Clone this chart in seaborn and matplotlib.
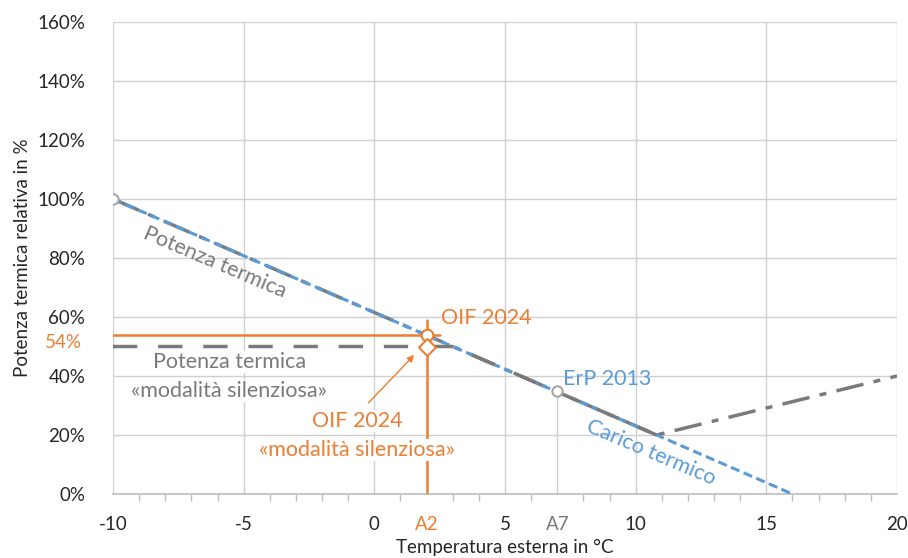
import matplotlib
matplotlib.use("Agg")
import matplotlib.pyplot as plt
import seaborn as sns
import pandas as pd
import numpy as np

# ---- data ----
load_temp = [-10, 16]
load_pct = [100, 0]
power_temp = [-10, 10.8, 20]
power_pct = [100, 20, 40]
silent_temp = [-10, 3, 10.8]
silent_pct = [50, 50, 20]
erp_temp = [-10, 7]
erp_pct = [100, 35]
oif_temp = 2
oif_power = 54
oif_silent = 50
x_ticks = [-10, -5, 0, 2, 5, 7, 10, 15, 20]
x_labels = ["-10", "-5", "0", "A2", "5", "A7", "10", "15", "20"]
grid_x = [-10, -5, 0, 5, 10, 15, 20]
y_ticks = [0, 20, 40, 60, 80, 100, 120, 140, 160]
y_labels = ["0%", "20%", "40%", "60%", "80%", "100%", "120%", "140%", "160%"]

BLUE = "#5b9bd5"
ORANGE = "#ed7d31"
GRAY = "#7a7a7a"
GRID = "#d0d0d0"

sns.set_theme(style="white")
plt.rcParams["font.family"] = ["Lato", "DejaVu Sans"]

fig = plt.figure(figsize=(9.08, 5.58), dpi=100)
ax = fig.add_axes([113/908, 1-494/558, 784/908, 472/558])

ax.set_xlim(-10, 20)
ax.set_ylim(0, 160)

for gx in grid_x:
    ax.axvline(gx, color=GRID, lw=1, zorder=0)
for gy in y_ticks:
    ax.axhline(gy, color=GRID, lw=1, zorder=0)
ax.plot([erp_temp[1], erp_temp[1]], [0, erp_pct[1]], color=GRID, lw=1, zorder=0)

df_power = pd.DataFrame({"t": power_temp, "p": power_pct})
df_load = pd.DataFrame({"t": load_temp, "p": load_pct})
df_silent = pd.DataFrame({"t": silent_temp, "p": silent_pct})

sns.lineplot(data=df_power, x="t", y="p", ax=ax, color=GRAY, lw=2.5,
             zorder=2, sort=False).lines[-1].set_dashes([8, 3, 2, 3])
sns.lineplot(data=df_load, x="t", y="p", ax=ax, color=BLUE, lw=2.2,
             zorder=3, sort=False).lines[-1].set_dashes([3, 1.5])
sns.lineplot(data=df_silent, x="t", y="p", ax=ax, color=GRAY, lw=2.5,
             zorder=4, sort=False).lines[-1].set_dashes([7, 6])

# OIF crosshair
ax.plot([-10, oif_temp + 0.5], [oif_power, oif_power], color=ORANGE, lw=1.8, zorder=4)
ax.plot([oif_temp, oif_temp], [0, oif_power + 5], color=ORANGE, lw=1.8, zorder=4)
ax.scatter([oif_temp], [oif_power], s=70, marker="o", facecolor="white",
           edgecolor=ORANGE, linewidth=1.5, zorder=6)
ax.scatter([oif_temp], [oif_silent], s=75, marker="D", facecolor="white",
           edgecolor=ORANGE, linewidth=1.5, zorder=6)
ax.scatter(erp_temp, erp_pct, s=55, marker="o", facecolor="white",
           edgecolor="#a6a6a6", linewidth=1.5, zorder=6)

ax.annotate("", xy=(1.6, 47.8), xytext=(-0.3, 30.2),
            arrowprops=dict(arrowstyle="-|>", color=ORANGE, lw=1, mutation_scale=10),
            zorder=5)

fs = 15.5
wb = dict(facecolor="white", edgecolor="none", pad=1)
ax.text(-6.1, 78.6, "Potenza termica", color=GRAY, fontsize=fs, rotation=-23,
        ha="center", va="center", rotation_mode="anchor", zorder=5)
ax.text(4.3, 59.5, "OIF 2024", color=ORANGE, fontsize=fs, ha="center", va="center", zorder=5)
ax.text(-5.55, 44.7, "Potenza termica", color=GRAY, fontsize=fs, ha="center", va="center",
        zorder=5, bbox=wb)
ax.text(-5.55, 34.9, "«modalità silenziosa»", color=GRAY, fontsize=fs, ha="center",
        va="center", zorder=5, bbox=wb)
ax.text(-0.65, 24.7, "OIF 2024", color=ORANGE, fontsize=fs, ha="center", va="center",
        zorder=5, bbox=wb)
ax.text(-0.65, 14.9, "«modalità silenziosa»", color=ORANGE, fontsize=fs, ha="center",
        va="center", zorder=5, bbox=wb)
ax.text(8.9, 39, "ErP 2013", color=BLUE, fontsize=fs, ha="center", va="center", zorder=5)
ax.text(10.6, 14.0, "Carico termico", color=BLUE, fontsize=fs, rotation=-23,
        ha="center", va="center", rotation_mode="anchor", zorder=5)

ax.text(-0.063, 51.4, "54%", color=ORANGE, fontsize=13.5, ha="center", va="center",
        transform=ax.get_yaxis_transform())

ax.set_yticks(y_ticks)
ax.set_yticklabels(y_labels, fontsize=13.5, color="#262626")
ax.set_xticks(x_ticks)
ax.set_xticklabels(x_labels, fontsize=13.5, color="#262626")
for lab in ax.get_xticklabels():
    if lab.get_text() == "A2":
        lab.set_color(ORANGE)
    elif lab.get_text() == "A7":
        lab.set_color(GRAY)
ax.tick_params(axis="x", which="major", length=0, pad=16)
ax.tick_params(axis="y", which="major", length=0, pad=20)
ax.set_xticks(np.arange(-10, 21, 1), minor=True)
ax.tick_params(axis="x", which="minor", length=5, color="#bfbfbf", width=1, direction="out",
               bottom=True)

for s in ["top", "right", "left"]:
    ax.spines[s].set_visible(False)
ax.spines["bottom"].set_color("#bfbfbf")
ax.spines["bottom"].set_zorder(1)

ax.set_xlabel("Temperatura esterna in °C", fontsize=13.5, color="#262626", va="center")
ax.set_ylabel("Potenza termica relativa in %", fontsize=13.5, color="#262626", va="center")
ax.xaxis.set_label_coords(0.5, -0.114)
ax.yaxis.set_label_coords(-0.115, 0.5)

fig.savefig("out.png", dpi=100)
